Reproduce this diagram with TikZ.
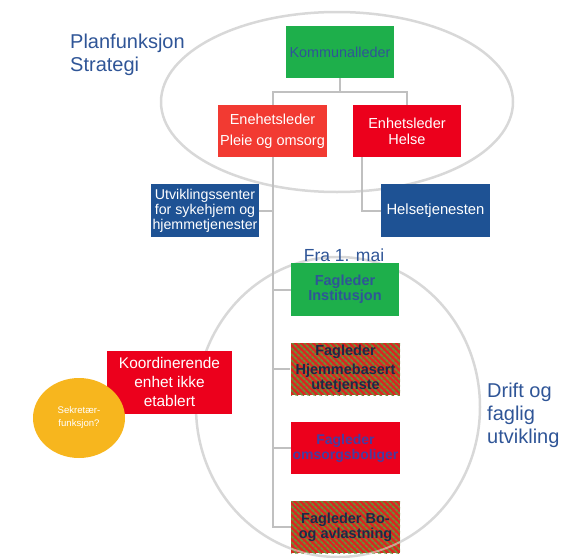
\documentclass[tikz,border=0pt]{standalone}
\usepackage{fontspec}
\setmainfont{Liberation Sans}
\usetikzlibrary{patterns.meta,shapes.geometric}
\definecolor{bgreen}{RGB}{30,175,75}
\definecolor{redA}{RGB}{242,58,50}
\definecolor{redB}{RGB}{236,0,28}
\definecolor{bblue}{RGB}{30,82,148}
\definecolor{orng}{RGB}{247,182,30}
\definecolor{lgray}{RGB}{192,192,192}
\definecolor{egray}{RGB}{216,216,216}
\definecolor{tblue}{RGB}{47,85,151}
\definecolor{hred}{RGB}{220,36,32}
\definecolor{hgreen}{RGB}{110,140,55}
\definecolor{navy}{RGB}{30,40,70}
\definecolor{purp}{RGB}{70,60,160}
\begin{document}
\begin{tikzpicture}[x=1pt,y=-1pt,
  box/.style={minimum width=108pt,minimum height=52pt,inner sep=0.5pt,align=center,
    font=\fontsize{14.5}{16}\selectfont},
  greenbox/.style={box,fill=bgreen},
  redboxA/.style={box,fill=redA,text=white},
  redboxB/.style={box,fill=redB,text=white},
  bluebox/.style={box,fill=bblue,text=white,font=\fontsize{14.2}{15}\selectfont},
  hatchbox/.style={box,preaction={fill=hred},
    pattern={Lines[angle=-45,distance=4pt,line width=2pt]},pattern color=hgreen,
    text=navy,font=\bfseries\fontsize{14.5}{15}\selectfont},
  conn/.style={draw=lgray,line width=2pt},
  ring/.style={draw=egray,line width=2.5pt},
  bigtext/.style={text=tblue,align=left,font=\fontsize{20}{23}\selectfont,inner sep=0pt}
]
\useasboundingbox (0,0) rectangle (573,557);
% ellipses
\draw[ring] (337,102) ellipse [x radius=176pt, y radius=90pt];
\draw[ring] (338,407) ellipse [x radius=142pt, y radius=150pt];
% labels
\node[bigtext,anchor=north west] (plan) at (70,34) {Planfunksjon\\Strategi};
\node[bigtext,anchor=north west] (drift) at (487,383) {Drift og\\faglig\\utvikling};
\node[text=tblue,font=\fontsize{17.5}{19}\selectfont,inner sep=0pt] (fra) at (344,255) {Fra 1. mai};
% top boxes
\node[greenbox,text=tblue,font=\fontsize{14.4}{16}\selectfont] (kom) at (340,52) {Kommunalleder};
\node[redboxA,minimum width=109pt] (pleie) at (272.5,131) {Enehetsleder\\[5pt]Pleie og omsorg};
\node[redboxB] (helse) at (407,131) {Enhetsleder\\Helse};
\node[bluebox,minimum height=53pt] (utv) at (205,210.5) {Utviklingssenter\\for sykehjem og\\hjemmetjenester};
\node[bluebox,minimum width=109pt,minimum height=53pt,font=\fontsize{14.8}{15}\selectfont] (htj) at (435.5,210.5) {Helsetjenesten};
% fagleder boxes
\node[greenbox,minimum height=53pt,text=tblue,font=\bfseries\fontsize{14.5}{15}\selectfont] (inst) at (345,289.5) {Fagleder\\Institusjon};
\node[hatchbox,minimum width=109pt] (hjem) at (345.5,369) {Fagleder\\[4pt]Hjemmebasert\\utetjenste};
\node[box,fill=redB,minimum width=109pt,text=purp,font=\bfseries\fontsize{14}{15}\selectfont] (oms) at (345.5,448) {Fagleder\\omsorgsboliger};
\node[hatchbox,minimum width=109pt] (bo) at (345.5,527) {Fagleder Bo-\\og avlastning};
% faint ring over the bottom box
\begin{scope}
\clip (bo.south west) rectangle (bo.north east);
\draw[draw=white,line width=2pt,opacity=0.45] (338,407) ellipse [x radius=142pt, y radius=150pt];
\end{scope}
% left side
\node[box,fill=redB,text=white,minimum width=125pt,minimum height=63pt,
  font=\fontsize{15.4}{19}\selectfont] (koord) at (169.5,382) {Koordinerende\\enhet ikke\\etablert};
\node[ellipse,fill=orng,minimum width=92pt,minimum height=80pt,inner sep=0pt,text=white,
  align=center,font=\fontsize{9.6}{13}\selectfont] (sekr) at (79,418) {Sekretær-\\funksjon?};
% connectors
\coordinate (j1) at (340,92);
\coordinate (tend) at (272.5,527);
\draw[conn] (kom.south) -- (j1);
\draw[conn] (pleie.north) |- (j1) -| (helse.north);
\draw[conn] (pleie.south) -- (tend) -- (bo.west);
\draw[conn] (utv.east) -- (utv.east -| pleie.south);
\draw[conn] ([xshift=9pt]helse.south west) |- (htj.west);
\draw[conn] (inst.west) -- (inst.west -| pleie.south);
\draw[conn] (hjem.west) -- (hjem.west -| pleie.south);
\draw[conn] (oms.west) -- (oms.west -| pleie.south);
\end{tikzpicture}
\end{document}
